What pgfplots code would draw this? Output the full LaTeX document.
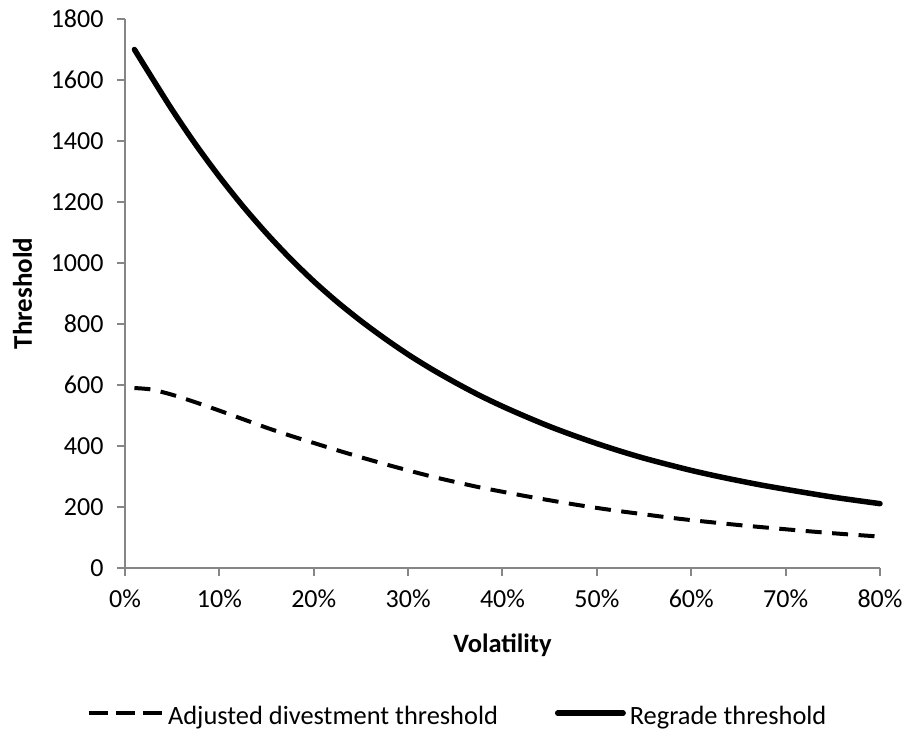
\documentclass[border=0pt]{standalone}
\usepackage{fontspec}
\setmainfont{Carlito}
\usepackage{pgfplots}
\pgfplotsset{compat=1.18}
\definecolor{axgray}{RGB}{134,134,134}
\pgfplotsset{
  dashlegend/.style={legend image code/.code={\draw[##1, dash pattern=on 19pt off 8pt, line cap=butt, line width=4.5pt] (0pt,3pt) -- (73pt,3pt);}},
  solidlegend/.style={legend image code/.code={\draw[##1, line cap=round] (2.8pt,3pt) -- (68.2pt,3pt);}},
}
\begin{document}
\begin{tikzpicture}[x=1pt,y=1pt]
\begin{axis}[
  scale only axis, width=755pt, height=549pt,
  xmin=0, xmax=80, ymin=0, ymax=1800,
  xtick={0,10,...,80}, ytick={0,200,...,1800},
  xticklabel={\pgfmathprintnumber{\tick}\%},
  yticklabel={\pgfmathprintnumber{\tick}},
  /pgf/number format/assume math mode=true,
  /pgf/number format/1000 sep={},
  axis x line=bottom, axis y line=left,
  axis line style={-, draw=axgray, line width=2pt},
  tick align=outside, major tick length=8pt,
  tick style={draw=axgray, line width=2pt},
  ticklabel style={font=\fontsize{26}{30}\selectfont},
  xticklabel style={yshift=-10pt},
  yticklabel style={xshift=-10pt},
  xlabel={\textbf{Volatility}},
  ylabel={\textbf{Threshold}},
  xlabel style={font=\fontsize{26.5}{30}\selectfont, at={(axis description cs:0.5,-0.1403)}, anchor=center},
  ylabel style={font=\fontsize{27}{30}\selectfont, at={(axis description cs:-0.1358,0.5)}, anchor=center},
  legend style={at={(axis description cs:0.439,-0.270)}, anchor=center, draw=none,
    font=\fontsize{26.4}{30}\selectfont, legend columns=2,
    nodes={inner sep=0pt},
    /tikz/every odd column/.append style={column sep=4pt},
    /tikz/every even column/.append style={column sep=57pt}},
  legend cell align=left,
  clip=false,
]
\addplot[black, line width=4pt, dash pattern=on 16pt off 10.5pt, smooth, tension=0.5, dashlegend]
  coordinates {
  (1,590) (2,588) (3,584) (5,568) (7.5,543) (10,516) (12.5,488) (15,460)
  (17.5,434) (20,410) (22.5,386) (25,363) (27.5,341) (30,320) (32.5,300) (35,282)
  (37.5,265) (40,250) (42.5,235.5) (45,222) (47.5,209) (50,197) (52.5,186) (55,176)
  (57.5,166) (60,157) (65,141) (70,127) (75,114) (80,103)};
\addlegendentry{Adjusted divestment threshold}
\addplot[black, line width=5.5pt, line cap=round, line join=round, smooth, tension=0.5, solidlegend]
  coordinates {
  (1,1700) (2.5,1625) (5,1502) (7.5,1388) (10,1283) (12.5,1186) (15,1097)
  (17.5,1015) (20,940) (22.5,872) (25,810) (27.5,753) (30,700) (32.5,652)
  (35,608) (37.5,567) (40,530) (42.5,496) (45,464) (47.5,435) (50,408)
  (52.5,383) (55,360) (57.5,339.5) (60,320) (62.5,302.5) (65,286.5) (67.5,271.5)
  (70,258) (72.5,245) (75,232.5) (77.5,221.5) (80,211)};
\addlegendentry{Regrade threshold}
\end{axis}
\pgfresetboundingbox
\useasboundingbox (-125,-166) rectangle (783,568);
\end{tikzpicture}
\end{document}
